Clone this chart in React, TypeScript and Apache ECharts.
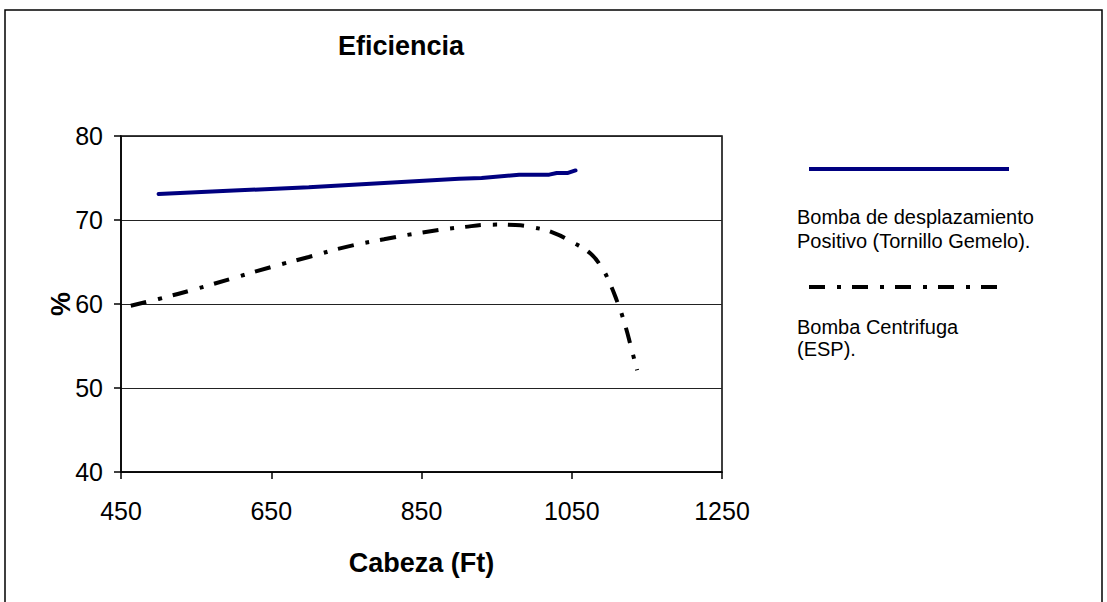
import React, { useEffect, useRef } from "react";
import * as echarts from "echarts";

// Head (ft) vs efficiency (%) for the two pump types
const positiveDisplacement: [number, number][] = [
  [500, 73.1], [600, 73.5], [700, 73.9], [800, 74.4], [900, 74.9],
  [930, 75.0], [980, 75.4], [1020, 75.4], [1030, 75.6], [1045, 75.6], [1055, 75.9],
];

const centrifugal: [number, number][] = [
  [463, 59.8], [500, 60.6], [550, 61.8], [600, 63.1], [650, 64.4], [700, 65.6],
  [750, 66.8], [800, 67.7], [850, 68.5], [900, 69.1], [950, 69.45], [975, 69.4],
  [1000, 69.1], [1025, 68.5], [1050, 67.4], [1075, 66.0], [1090, 64.3], [1100, 62.6],
  [1110, 60.4], [1120, 57.8], [1130, 54.5], [1137, 52.1],
];

const seriesNames = [
  "Bomba de desplazamiento\nPositivo (Tornillo Gemelo).",
  "Bomba Centrifuga\n(ESP).",
];

const xTicks = [450, 650, 850, 1050, 1250];
const yTicks = [40, 50, 60, 70, 80];

const dashDot = [16, 12, 4, 11];
const sans = "'Liberation Sans', Arial, sans-serif";

export default function App() {
  const ref = useRef<HTMLDivElement>(null);

  useEffect(() => {
    document.body.style.margin = "0";
    const chart = echarts.init(ref.current!, undefined, { renderer: "svg" });
    chart.setOption({
      animation: false,
      backgroundColor: "#fff",
      title: {
        text: "Eficiencia",
        left: 333,
        top: 27,
        textStyle: { fontFamily: sans, fontWeight: "bold", fontSize: 27, color: "#000" },
      },
      grid: {
        left: 121,
        top: 136,
        width: 601,
        height: 336,
        show: true,
        borderColor: "#000",
        borderWidth: 1.5,
        backgroundColor: "transparent",
      },
      xAxis: {
        type: "value",
        min: xTicks[0],
        max: xTicks[xTicks.length - 1],
        name: "Cabeza (Ft)",
        nameLocation: "middle",
        nameGap: 77,
        nameTextStyle: { fontFamily: sans, fontWeight: "bold", fontSize: 27, color: "#000" },
        axisLine: { show: true, lineStyle: { color: "#000", width: 1.5 } },
        axisTick: { show: true, length: 7, customValues: xTicks, lineStyle: { color: "#000", width: 1.5 } },
        axisLabel: {
          customValues: xTicks,
          margin: 26,
          fontFamily: sans,
          fontSize: 25,
          color: "#000",
          formatter: (v: number) => String(v),
        },
        splitLine: { show: false },
      },
      yAxis: {
        type: "value",
        min: yTicks[0],
        max: yTicks[yTicks.length - 1],
        interval: 10,
        name: "%",
        nameLocation: "middle",
        nameRotate: 90,
        nameGap: 47,
        nameMoveOverlap: false,
        nameTextStyle: { fontFamily: sans, fontWeight: "bold", fontSize: 27, color: "#000" },
        axisLine: { show: true, lineStyle: { color: "#000", width: 1.5 } },
        axisTick: { show: true, length: 7, lineStyle: { color: "#000", width: 1.5 } },
        axisLabel: { margin: 18, fontFamily: sans, fontSize: 25, color: "#000" },
        splitLine: { show: true, lineStyle: { color: "#222", width: 1 } },
      },
      series: [
        {
          name: seriesNames[0],
          type: "line",
          data: positiveDisplacement,
          showSymbol: false,
          smooth: false,
          lineStyle: { color: "#000080", width: 4, cap: "round" },
        },
        {
          name: seriesNames[1],
          type: "line",
          data: centrifugal,
          showSymbol: false,
          smooth: true,
          lineStyle: { color: "#000", width: 4, type: dashDot, cap: "butt" },
        },
      ],
      graphic: [
        {
          type: "rect",
          shape: { x: 5, y: 10, width: 1097, height: 700 },
          style: { fill: "none", stroke: "#000", lineWidth: 1.5 },
          silent: true,
        },
        {
          type: "line",
          shape: { x1: 809, y1: 169, x2: 1009, y2: 169 },
          style: { stroke: "#000080", lineWidth: 4 },
        },
        {
          type: "text",
          x: 797,
          y: 205,
          style: { text: seriesNames[0], font: `20px ${sans}`, fill: "#000", lineHeight: 24 },
        },
        {
          type: "line",
          shape: { x1: 809, y1: 287, x2: 1009, y2: 287 },
          style: { stroke: "#000", lineWidth: 4, lineDash: dashDot },
        },
        {
          type: "text",
          x: 797,
          y: 316,
          style: { text: seriesNames[1], font: `20px ${sans}`, fill: "#000", lineHeight: 22 },
        },
      ],
    });
    return () => chart.dispose();
  }, []);

  return <div ref={ref} style={{ width: 1107, height: 602 }} />;
}
